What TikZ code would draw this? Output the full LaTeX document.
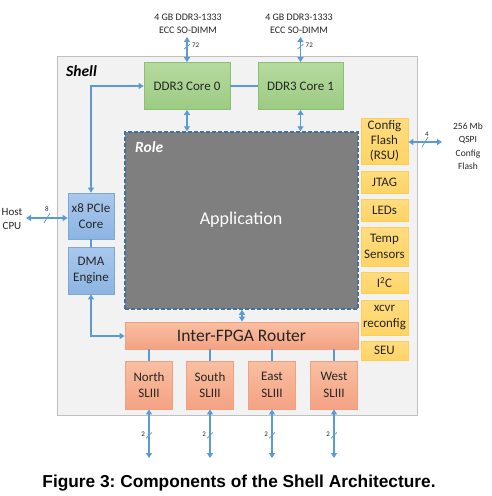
\documentclass[tikz,border=0pt]{standalone}
\usepackage{fontspec}
\setmainfont{Carlito}
\newfontfamily\capfont{Liberation Sans}
\usetikzlibrary{arrows.meta,calc}
\frenchspacing
\definecolor{arr}{HTML}{5B9BD5}
\definecolor{shellfill}{HTML}{F2F2F2}
\definecolor{shellline}{HTML}{BFBFBF}
\definecolor{grtop}{HTML}{B5DA9F}
\definecolor{grbot}{HTML}{9DCB83}
\definecolor{grline}{HTML}{8DBF72}
\definecolor{bltop}{HTML}{A9C8EC}
\definecolor{blbot}{HTML}{8DB4E2}
\definecolor{blline}{HTML}{7DA7DA}
\definecolor{yetop}{HTML}{FFDC80}
\definecolor{yebot}{HTML}{FFD466}
\definecolor{yeline}{HTML}{FFCF55}
\definecolor{satop}{HTML}{F9BFA2}
\definecolor{sabot}{HTML}{F4A283}
\definecolor{saline}{HTML}{F2A07E}
\definecolor{rolefill}{HTML}{7F7F7F}
\definecolor{roleline}{HTML}{41719C}
\definecolor{txt}{HTML}{262626}
\tikzset{
  blk/.style={draw, line width=0.8pt, inner sep=0pt, align=center, text=txt, font=\fontsize{13}{16.5}\selectfont},
  grn/.style={blk, top color=grtop, bottom color=grbot, draw=grline},
  blu/.style={blk, top color=bltop, bottom color=blbot, draw=blline},
  yel/.style={blk, top color=yetop, bottom color=yebot, draw=yeline},
  sal/.style={blk, top color=satop, bottom color=sabot, draw=saline},
  conn/.style={draw=arr, line width=1.8pt},
  dbl/.style={conn, {Triangle[width=6pt,length=5pt]}-{Triangle[width=6pt,length=5pt]}},
  lbl/.style={text=txt, align=center, font=\fontsize{10}{13}\selectfont, inner sep=0pt},
  tiny/.style={text=txt, font=\fontsize{7}{7}\selectfont, inner sep=0pt},
  slash/.style={draw=arr, line width=0.7pt}
}
\begin{document}
\begin{tikzpicture}[x=1pt,y=-1pt]
\useasboundingbox (0,0) rectangle (491,496);
% Shell
\node[draw=shellline, fill=shellfill, line width=1.2pt, minimum width=360pt, minimum height=359pt, anchor=north west, inner sep=0pt] (shell) at (57,56) {};
\node[anchor=west, font=\fontsize{15.5}{16}\selectfont\bfseries\itshape, text=black, inner sep=0pt] (shelllbl) at (66,71) {Shell};
% DDR cores
\node[grn, minimum width=86pt, minimum height=47pt] (ddr0) at (187,86) {DDR3 Core 0};
\node[grn, minimum width=85pt, minimum height=47pt] (ddr1) at (300.5,86) {DDR3 Core 1};
% Role
\node[fill=rolefill, draw=roleline, dashed, dash pattern=on 4pt off 2pt, line width=1.5pt, minimum width=233pt, minimum height=177pt, inner sep=0pt] (role) at (241.5,220.5) {};
\node[anchor=west, font=\fontsize{15.5}{16}\selectfont\bfseries\itshape, text=white, inner sep=0pt] (rolelbl) at (135,147) {Role};
\node[font=\fontsize{18}{19}\selectfont, text=white, inner sep=0pt] (app) at (241,220) {Application};
% PCIe / DMA
\node[blu, minimum width=46pt, minimum height=46pt] (pcie) at (91,216) {x8 PCIe\\Core};
\node[blu, minimum width=46pt, minimum height=47pt] (dma) at (91,270.5) {DMA\\Engine};
% Router
\node[sal, minimum width=233pt, minimum height=27pt, font=\fontsize{17.5}{18}\selectfont] (router) at (241.5,335.5) {Inter-FPGA Router};
% SL boxes
\node[sal, minimum width=47pt, minimum height=48pt] (north) at (149,385) {North\\SLIII};
\node[sal, minimum width=47pt, minimum height=48pt] (south) at (210,385) {South\\SLIII};
\node[sal, minimum width=47pt, minimum height=48pt] (east) at (272,385) {East\\SLIII};
\node[sal, minimum width=47pt, minimum height=48pt] (west) at (334,385) {West\\SLIII};
% Right column
\node[yel, minimum width=47pt, minimum height=46pt, font=\fontsize{13}{15}\selectfont] (cfg) at (384.5,141) {Config\\Flash\\(RSU)};
\node[yel, minimum width=47pt, minimum height=22pt] (jtag) at (384.5,182) {JTAG};
\node[yel, minimum width=47pt, minimum height=22pt] (leds) at (384.5,210) {LEDs};
\node[yel, minimum width=47pt, minimum height=39pt] (temp) at (384.5,246.5) {Temp\\Sensors};
\node[yel, minimum width=47pt, minimum height=21pt] (i2c) at (384.5,282.5) {I\textsuperscript{2}C};
\node[yel, minimum width=47pt, minimum height=35pt] (xcvr) at (384.5,317.5) {xcvr\\reconfig};
\node[yel, minimum width=47pt, minimum height=19pt] (seu) at (384.5,350.5) {SEU};
% External labels
\node[lbl] (dimm0) at (188,23.5) {4 GB DDR3-1333\\ECC SO-DIMM};
\node[lbl] (dimm1) at (299,23.5) {4 GB DDR3-1333\\ECC SO-DIMM};
\node[lbl, font=\fontsize{11}{14}\selectfont] (host) at (12,219) {Host\\CPU};
\node[lbl, font=\fontsize{9.5}{13.5}\selectfont] (qspi) at (468,146) {256 Mb\\QSPI\\Config\\Flash};
% coordinates for free ends
\coordinate (d0top) at (ddr0.north |- 0,37);
\coordinate (d1top) at (ddr1.north |- 0,37);
\coordinate (hostend) at (26,218);
\coordinate (qspiend) at (442,142);
\coordinate (nb) at (north.south |- 0,458);
\coordinate (sb) at (south.south |- 0,458);
\coordinate (eb) at (east.south |- 0,458);
\coordinate (wb) at (west.south |- 0,458);
\coordinate (corner1) at (91,86);
\coordinate (corner2) at (91,336);
% DIMM arrows
\draw[dbl] (ddr0.north) -- (d0top);
\draw[dbl] (ddr1.north) -- (d1top);
\draw[slash] ($(ddr0.north)+(-3,-13)$) -- ($(ddr0.north)+(3,-18)$);
\draw[slash] ($(ddr1.north)+(-3,-13)$) -- ($(ddr1.north)+(3,-18)$);
\node[tiny, anchor=west] (w72a) at ($(ddr0.north)+(5,-17)$) {72};
\node[tiny, anchor=west] (w72b) at ($(ddr1.north)+(5,-17)$) {72};
% DDR0 - DDR1
\draw[conn] (ddr0.east) -- (ddr1.west);
% DDR to Role
\draw[dbl] (ddr0.south) -- (ddr0.south |- role.north);
\draw[dbl] (ddr1.south) -- (ddr1.south |- role.north);
% PCIe to DDR0
\draw[dbl] (pcie.north) -- (corner1) -- (ddr0.west);
% Host
\draw[dbl] (hostend) -- (pcie.west |- hostend);
\draw[slash] (44,223) -- (50,213);
\node[tiny, anchor=south] (w8) at (47,212) {8};
% PCIe - DMA
\draw[conn] (pcie.south) -- (dma.north);
% DMA to router
\draw[dbl] (dma.south) -- (corner2) -- (router.west |- corner2);
% Role to router
\draw[dbl] (role.south -| 242,0) -- (router.north -| 242,0);
% router to SL
\foreach \n in {north,south,east,west}{
  \draw[conn] (\n.north |- router.south) -- (\n.north);
}
% SL down arrows
\foreach \n/\e in {north/nb,south/sb,east/eb,west/wb}{
  \draw[dbl] (\n.south) -- (\e);
  \draw[slash] ($(\n.south)+(-3,29)$) -- ($(\n.south)+(3,23)$);
  \node[tiny, anchor=east] at ($(\n.south)+(-4,25)$) {2};
}
% Config flash
\draw[dbl] (cfg.east |- qspiend) -- (qspiend);
\draw[slash] (422,147) -- (428,137);
\node[tiny, anchor=south] (w4) at (427,137) {4};
% Caption
\node[font=\capfont\bfseries\fontsize{17.3}{19}\selectfont, text=black, inner sep=0pt] (cap) at (239,483) {Figure 3: Components of the Shell Architecture.};
\end{tikzpicture}
\end{document}
